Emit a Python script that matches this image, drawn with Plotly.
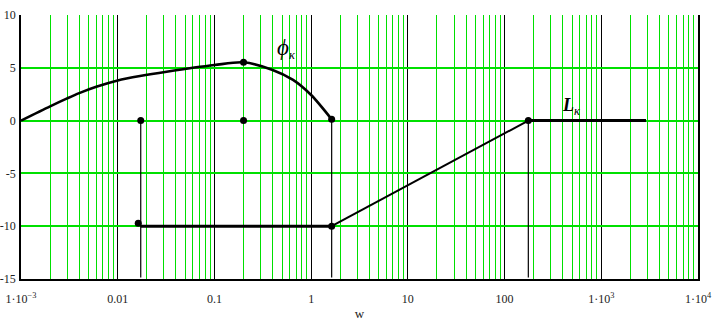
import math
import plotly.graph_objects as go

# phase-like curve (phi_k)
phi_w = [0.001, 0.002, 0.003, 0.004, 0.006, 0.01, 0.017, 0.032, 0.1, 0.2, 0.4, 0.65, 1.0, 1.63]
phi_y = [0.0, 1.35, 2.1, 2.6, 3.2, 3.8, 4.22, 4.63, 5.26, 5.52, 4.8, 3.85, 2.42, 0.12]

# L_k asymptotic segments
Lh1_w = [0.0173, 1.63]
Lh1_y = [-10.0, -10.0]
Ls_w = [1.63, 176]
Ls_y = [-10.0, 0.0]
Lh2_w = [176, 2900]
Lh2_y = [0.0, 0.0]

# vertical drop lines
v_w = [0.0173, 1.63, 176]
v_top = [0.0, 0.0, 0.0]
v_bot = [-14.85, -14.85, -14.85]

# marker points
mk_w = [0.0173, 0.2, 1.63, 0.2, 0.0163, 1.63, 176]
mk_y = [0.0, 0.0, 0.12, 5.52, -9.73, -10.0, 0.0]

# label positions (data coords)
phi_lab_w, phi_lab_y = 0.424, 6.8
L_lab_w, L_lab_y = 375, 1.3

x_tickvals = [0.001, 0.01, 0.1, 1, 10, 100, 1000, 10000]
x_ticktext = ["1·10<sup>−3</sup>", "0.01", "0.1", "1", "10", "100", "1·10<sup>3</sup>", "1·10<sup>4</sup>"]
y_tickvals = [10, 5, 0, -5, -10, -15]
y_ticktext = ["10", "5", "0", "-5", "-10", "-15"]

SERIF = "Liberation Serif, Times New Roman, serif"

fig = go.Figure()

for xw, t, b in zip(v_w, v_top, v_bot):
    fig.add_trace(go.Scatter(x=[xw, xw], y=[t, b], mode="lines",
                             line=dict(color="black", width=1.2), hoverinfo="skip"))

fig.add_trace(go.Scatter(x=phi_w, y=phi_y, mode="lines",
                         line=dict(color="black", width=2.6, shape="spline", smoothing=0.8)))
fig.add_trace(go.Scatter(x=Lh1_w, y=Lh1_y, mode="lines", line=dict(color="black", width=3)))
fig.add_trace(go.Scatter(x=Ls_w, y=Ls_y, mode="lines", line=dict(color="black", width=2)))
fig.add_trace(go.Scatter(x=Lh2_w, y=Lh2_y, mode="lines", line=dict(color="black", width=3)))
fig.add_trace(go.Scatter(x=mk_w, y=mk_y, mode="markers",
                         marker=dict(color="black", size=7)))

fig.add_annotation(x=math.log10(phi_lab_w), y=phi_lab_y, xref="x", yref="y",
                   xanchor="left", yanchor="middle",
                   text="<i><span style='font-size:23px'>ϕ</span><sub>к</sub></i>", showarrow=False,
                   font=dict(family=SERIF, size=18, color="black"))
fig.add_annotation(x=math.log10(L_lab_w), y=L_lab_y, xref="x", yref="y",
                   xanchor="left", yanchor="middle",
                   text="<i><b>L</b><sub>к</sub></i>", showarrow=False,
                   font=dict(family=SERIF, size=18, color="black"))

fig.update_layout(
    width=723, height=333,
    margin=dict(l=21, r=25, t=15, b=54),
    paper_bgcolor="white", plot_bgcolor="white",
    showlegend=False,
    font=dict(family=SERIF, size=12, color="#222222"),
    xaxis=dict(type="log", range=[-3, 4], automargin=False,
               tickvals=x_tickvals, ticktext=x_ticktext,
               showgrid=True, gridcolor="black", gridwidth=1,
               minor=dict(dtick="D1", showgrid=True, gridcolor="#00e000", gridwidth=1.2),
               showline=True, linecolor="black", linewidth=1.5, mirror=False,
               ticks="", ticklabelstandoff=8,
               title=dict(text="w", font=dict(size=13), standoff=4),
               zeroline=False),
    yaxis=dict(range=[-15, 10], tickvals=y_tickvals, ticktext=y_ticktext, automargin=False,
               showgrid=True, gridcolor="#00e000", gridwidth=1.5,
               showline=True, linecolor="black", linewidth=1.5, mirror=True,
               ticks="", ticklabelstandoff=1, zeroline=False),
)

fig.write_html("out.html")
